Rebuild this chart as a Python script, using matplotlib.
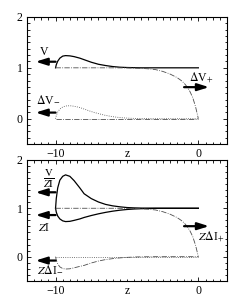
import numpy as np
import matplotlib.pyplot as plt
from matplotlib.ticker import MultipleLocator, FixedLocator

plt.rcParams['font.family'] = ['Liberation Serif', 'DejaVu Serif']
plt.rcParams['mathtext.fontset'] = 'stix'
plt.rcParams['font.size'] = 8.5

# curves (z, value)
z_peak = [-10, -9.95, -9.85, -9.7, -9.5, -9.3, -9.0, -8.7, -8.3, -8.0, -7.5, -7.0,
          -6.5, -6.0, -5.5, -5.0, -4.5, -4.0, -3.0, -2.0, -1.0, 0.0]
V_top = [1.0, 1.06, 1.13, 1.19, 1.23, 1.24, 1.235, 1.22, 1.19, 1.16, 1.11, 1.07,
         1.045, 1.025, 1.012, 1.006, 1.003, 1.0, 1.0, 1.0, 1.0, 1.0]
dVm_top = [0.0, 0.06, 0.13, 0.19, 0.23, 0.25, 0.255, 0.245, 0.22, 0.19, 0.14, 0.1,
           0.065, 0.04, 0.022, 0.012, 0.006, 0.003, 0.0, 0.0, 0.0, 0.0]
VzI_bot = [1.0, 1.2, 1.42, 1.58, 1.66, 1.69, 1.66, 1.57, 1.42, 1.3, 1.2, 1.13,
           1.08, 1.05, 1.03, 1.015, 1.008, 1.004, 1.0, 1.0, 1.0, 1.0]
zI_bot = [1.0, 0.92, 0.84, 0.78, 0.74, 0.725, 0.73, 0.75, 0.78, 0.81, 0.85, 0.885,
          0.915, 0.94, 0.96, 0.975, 0.985, 0.992, 1.0, 1.0, 1.0, 1.0]
zdIm_bot = [0.0, -0.07, -0.15, -0.21, -0.245, -0.255, -0.25, -0.23, -0.2, -0.18, -0.13, -0.09,
            -0.06, -0.04, -0.025, -0.014, -0.007, -0.003, 0.0, 0.0, 0.0, 0.0]

z_tail = [-10, -8, -6, -5, -4, -3.5, -3.0, -2.5, -2.0, -1.5, -1.2, -1.0, -0.8, -0.6, -0.4, -0.2, 0.0]
dVp_top = [1.0, 1.0, 1.0, 0.998, 0.99, 0.98, 0.965, 0.93, 0.88, 0.81, 0.75, 0.7,
           0.63, 0.54, 0.42, 0.24, 0.0]
zdIp_bot = [1.0, 1.0, 1.0, 0.998, 0.99, 0.98, 0.965, 0.93, 0.88, 0.81, 0.75, 0.7,
            0.63, 0.54, 0.42, 0.24, 0.0]

z_flat = [-10, 0]
zero_flat = [0, 0]


def style(ax):
    ax.set_xlim(-12, 2)
    ax.set_ylim(-0.5, 2)
    ax.xaxis.set_major_locator(FixedLocator([-10, 0]))
    ax.xaxis.set_minor_locator(MultipleLocator(0.5))
    ax.yaxis.set_major_locator(FixedLocator([0, 1, 2]))
    ax.yaxis.set_minor_locator(MultipleLocator(0.125))
    ax.tick_params(which='both', direction='in', top=True, right=True, width=0.6)
    ax.tick_params(which='major', length=3, pad=3)
    ax.tick_params(which='minor', length=1.8)
    for s in ax.spines.values():
        s.set_linewidth(0.8)
    # "z" sits on the same row as the tick labels
    ax.set_xlabel('z')
    h = ax.get_window_extent().height
    ax.xaxis.set_label_coords(0.5, -4.2 / h)


def arrow(ax, x0, x1, y):
    ax.annotate('', xy=(x1, y), xytext=(x0, y),
                arrowprops=dict(arrowstyle='-|>,head_length=0.8,head_width=0.25',
                                lw=1.6, color='k', shrinkA=0, shrinkB=0),
                annotation_clip=False)


fig = plt.figure(figsize=(2.4, 3.08), dpi=100)
ax1 = fig.add_axes([0.1125, 0.532, 0.833, 0.413])
ax2 = fig.add_axes([0.1125, 0.088, 0.833, 0.393])

# top panel
ax1.plot(z_peak, V_top, color='k', lw=0.9)
ax1.plot(z_tail, dVp_top, color='0.3', lw=0.6, ls='-.')
ax1.plot(z_peak, dVm_top, color='0.3', lw=0.6, ls=':')
ax1.plot(z_flat, zero_flat, color='0.3', lw=0.6, ls='-.')
arrow(ax1, -10, -11.4, 1.12)
arrow(ax1, -10, -11.4, 0.12)
arrow(ax1, -1.0, 0.75, 0.62)
ax1.text(-10.8, 1.32, 'V', ha='center', va='center')
ax1.text(-10.5, 0.36, r'$\Delta$V$_{-}$', ha='center', va='center')
ax1.text(0.2, 0.8, r'$\Delta$V$_{+}$', ha='center', va='center')
style(ax1)

# bottom panel
ax2.plot(z_peak, VzI_bot, color='k', lw=0.9)
ax2.plot(z_peak, zI_bot, color='k', lw=0.9)
ax2.plot(z_tail, zdIp_bot, color='0.3', lw=0.6, ls='-.')
ax2.plot(z_peak, zdIm_bot, color='0.3', lw=0.6, ls='-.')
ax2.plot(z_flat, zero_flat, color='0.3', lw=0.6, ls=':')
arrow(ax2, -10, -11.4, 1.33)
arrow(ax2, -10, -11.4, 0.86)
arrow(ax2, -10, -11.4, -0.08)
arrow(ax2, -1.0, 0.75, 0.63)
ax2.text(-10.5, 1.62, r'$\frac{\mathrm{V}}{Z\mathrm{I}}$', ha='center', va='center', fontsize=11)
ax2.text(-10.8, 0.6, r'$Z$I', ha='center', va='center')
ax2.text(0.9, 0.41, r'$Z\Delta$I$_{+}$', ha='center', va='center')
ax2.text(-10.4, -0.28, r'$Z\Delta$I$_{-}$', ha='center', va='center')
style(ax2)

fig.savefig('out.png', dpi=100)
